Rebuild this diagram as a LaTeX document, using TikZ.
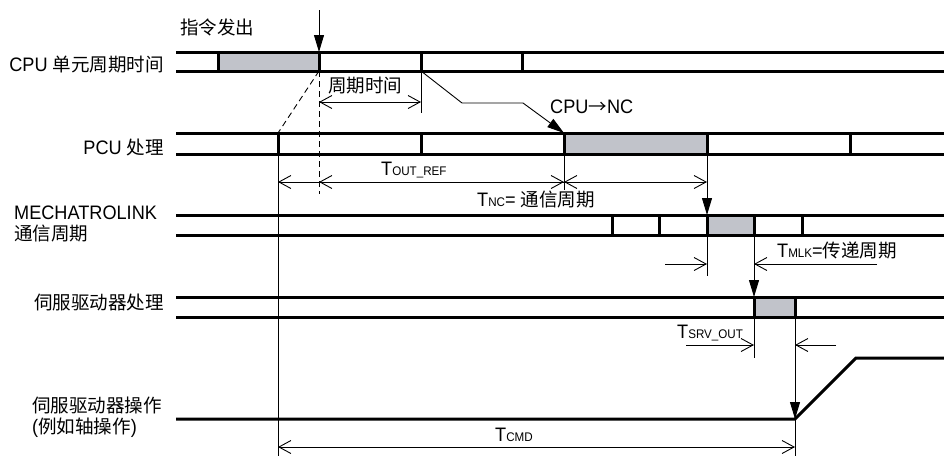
\documentclass[tikz,border=0pt]{standalone}
\usepackage{fontspec}
\setmainfont{Liberation Sans}[FakeStretch=0.93]
\newfontfamily\cjk{Noto Sans CJK SC}[Scale=0.95]
\usetikzlibrary{arrows.meta}
\definecolor{tcCell}{rgb}{0.757,0.765,0.792}
\newcommand{\Tsub}[1]{T{\fontsize{12.5}{12.5}\selectfont #1}}

\begin{document}
\begin{tikzpicture}[
  every node/.style={inner sep=0pt},
  font=\fontsize{19.5}{21}\selectfont,
  barb/.tip={Straight Barb[length=12pt,width=13pt]},
  tri/.tip={Triangle[length=17pt,width=10pt]},
  rowline/.style={line width=\tcRowWidth},
  thinline/.style={line width=\tcThinWidth},
  dimline/.style={thinline, barb-barb},
  dimhead/.style={thinline, -barb},
  pointer/.style={thinline, -tri},
  guide/.style={thinline, dash pattern=on 6pt off 4pt}
]
% Timing chart, drawn in pixel units of the figure
\def\px{1pt}
\providecommand{\tcRowWidth}{3pt}
\providecommand{\tcThinWidth}{0.9pt}
\begin{scope}[x=\px, y=-\px, line cap=butt, line join=miter]
  \useasboundingbox (0,0) rectangle (944,456);
  % Row labels
  \node[anchor=base east] (lblCpu) at (164,71) {CPU {\cjk 单元周期时间}};
  \node[anchor=base east] (lblPcu) at (164,154) {PCU {\cjk 处理}};
  \node[anchor=base west] (lblMlk) at (14,219) {MECHATROLINK};
  \node[anchor=base west] (lblMlkB) at (14,240) {\cjk 通信周期};
  \node[anchor=base east] (lblSrv) at (164,309) {\cjk 伺服驱动器处理};
  \node[anchor=base west] (lblOp) at (32,412) {\cjk 伺服驱动器操作};
  \node[anchor=base west] (lblOpB) at (32,433) {({\cjk 例如轴操作})};
  % Filled cells
  \begin{scope}[fill=tcCell]
    \fill (218,52) rectangle (319,71);
    \fill (564,133) rectangle (707,154);
    \fill (707,215) rectangle (754,235);
    \fill (754,297) rectangle (795,317);
  \end{scope}
  % Row lines
  \begin{scope}[rowline]
    \draw (176,52) -- (944,52);
    \draw (176,71) -- (944,71);
    \draw (176,133) -- (944,133);
    \draw (176,154) -- (944,154);
    \draw (176,215) -- (944,215);
    \draw (176,235) -- (944,235);
    \draw (176,297) -- (944,297);
    \draw (176,317) -- (944,317);
    \draw (176,419) -- (795,419) -- (856,358) -- (944,358);
  \end{scope}
  % Cell borders
  \begin{scope}[rowline]
    \draw (218,52) -- (218,71);
    \draw (319,52) -- (319,71);
    \draw (421,52) -- (421,71);
    \draw (522,52) -- (522,71);
    \draw (278,133) -- (278,154);
    \draw (421,133) -- (421,154);
    \draw (564,133) -- (564,154);
    \draw (707,133) -- (707,154);
    \draw (850,133) -- (850,154);
    \draw (612,215) -- (612,235);
    \draw (659,215) -- (659,235);
    \draw (707,215) -- (707,235);
    \draw (754,215) -- (754,235);
    \draw (802,215) -- (802,235);
    \draw (754,297) -- (754,317);
    \draw (795,297) -- (795,317);
  \end{scope}
  % Named points
  \coordinate (cmdTop) at (319,10);
  \coordinate (cmdIn) at (319,52);
  \coordinate (cmdOut) at (319,71);
  \coordinate (pcuStart) at (278,133);
  \coordinate (cpuNext) at (421,71);
  \coordinate (bendA) at (462,103);
  \coordinate (bendB) at (523,103);
  \coordinate (pcuIn) at (564,133);
  \coordinate (pcuOut) at (707,154);
  \coordinate (mlkIn) at (707,215);
  \coordinate (mlkOut) at (754,235);
  \coordinate (srvIn) at (754,297);
  \coordinate (srvOut) at (795,317);
  \coordinate (opIn) at (795,419);
  % Command and transfer arrows
  \draw[pointer] (cmdTop) -- (cmdIn);
  \draw[pointer] (cpuNext) -- (bendA) -- (bendB) -- (pcuIn);
  \draw[pointer] (pcuOut) -- (mlkIn);
  \draw[pointer] (mlkOut) -- (srvIn);
  \draw[pointer] (srvOut) -- (opIn);
  % Guide lines
  \draw[guide] (cmdOut) -- (pcuStart);
  \draw[guide] (cmdOut) -- (319,194);
  \draw[thinline] (278,154) -- (278,456);
  \draw[thinline] (421,71) -- (421,113);
  \draw[thinline] (564,154) -- (564,190);
  \draw[thinline] (707,235) -- (707,276);
  \draw[thinline] (754,317) -- (754,358);
  \draw[thinline] (opIn) -- (795,456);
  % Dimensions
  \draw[dimline] (319,102) -- (421,102);
  \draw[dimline] (278,182) -- (564,182);
  \draw[thinline, barb-] (319,182) -- (564,182);
  \draw[dimline] (564,182) -- (707,182);
  \draw[dimhead] (665,264) -- (707,264);
  \draw[dimhead] (877,264) -- (754,264);
  \draw[dimhead] (686,345) -- (754,345);
  \draw[dimhead] (836,345) -- (795,345);
  \draw[dimline] (278,447) -- (795,447);
  % Texts
  \node[anchor=west] (lblCmd) at (180,27) {\cjk 指令发出};
  \node[anchor=base west] (lblCycle) at (328,92) {\cjk 周期时间};
  \node[anchor=base west] (lblCpuNc) at (550,113) {CPU{\cjk →}NC};
  \node[anchor=base west] (lblOutRef) at (381,175) {\Tsub{OUT\_REF}};
  \node[anchor=base west] (lblNc) at (477,206) {\Tsub{NC}= {\cjk 通信周期}};
  \node[anchor=base west] (lblMlkT) at (777,257) {\Tsub{MLK}={\cjk 传递周期}};
  \node[anchor=base west] (lblSrvOut) at (677,338) {\Tsub{SRV\_OUT}};
  \node[anchor=base west] (lblCmdT) at (495,441) {\Tsub{CMD}};
\end{scope}
\end{tikzpicture}
\end{document}
